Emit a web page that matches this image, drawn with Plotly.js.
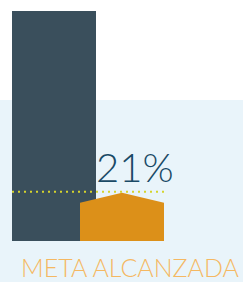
<!DOCTYPE html>
<html><head><meta charset="utf-8">
<script src="https://cdn.plot.ly/plotly-3.0.1.min.js"></script>
<style>html,body{margin:0;padding:0;background:#fff}#c{width:243px;height:282px}</style>
</head><body><div id="c"></div>
<script>
// Data
const totalValue = [100];        // full bar (100%)
const achievedValue = [21];      // achieved percentage
const labelText = ['21%'];
const caption = 'META ALCANZADA';

const barW = 84;
const darkX = 54, orangeX = 122;
const roof = 4.4;

const a = achievedValue[0];
const hx0 = orangeX - barW/2, hx1 = orangeX + barW/2;

const traces = [
  {type:'bar', x:[darkX], y:totalValue, width:[barW], marker:{color:'#3a4f5c', line:{width:0}}, hoverinfo:'skip'},
  {type:'scatter', mode:'lines', fill:'toself', fillcolor:'#dc9019', line:{width:0, color:'#dc9019'},
   x:[hx0, hx0, orangeX, hx1, hx1, hx0],
   y:[0, a - roof, a, a - roof, 0, 0], hoverinfo:'skip'}
];

const layout = {
  width:243, height:282, margin:{l:0,r:0,t:0,b:0},
  paper_bgcolor:'#ffffff', plot_bgcolor:'rgba(0,0,0,0)',
  showlegend:false, barmode:'overlay',
  xaxis:{range:[0,243], visible:false, fixedrange:true},
  yaxis:{range:[-17.83,104.78], visible:false, fixedrange:true},
  shapes:[
    {type:'rect', xref:'paper', yref:'paper', x0:0, x1:1, y0:0, y1:(282-100)/282, fillcolor:'#e9f4fa', line:{width:0}, layer:'below'},
    {type:'line', xref:'x', yref:'y', x0:12, x1:166, y0:a+0.4, y1:a+0.4, line:{color:'#d5d42c', width:2.2, dash:'2px,4px'}, layer:'above'}
  ],
  annotations:[
    {xref:'x', yref:'y', x:135, y:a + 11.2, text:labelText[0], showarrow:false, xanchor:'center', yanchor:'middle',
     font:{family:'Lato, sans-serif', size:40, color:'#1a4a66', weight:300}},
    {xref:'x', yref:'y', x:130, y:-11.5, text:caption, showarrow:false, xanchor:'center', yanchor:'middle',
     font:{family:'Lato, sans-serif', size:25, color:'#f5b862', weight:300}}
  ]
};
Plotly.newPlot('c', traces, layout, {staticPlot:true, displayModeBar:false});
</script></body></html>
